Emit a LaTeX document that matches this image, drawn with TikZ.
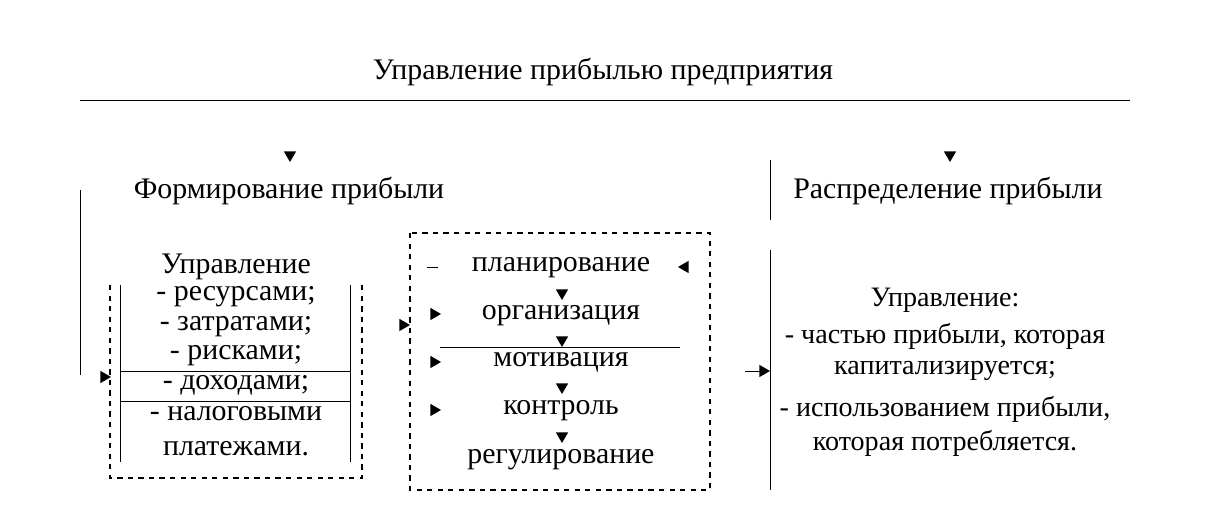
\documentclass[tikz,border=0pt]{standalone}
\usepackage{fontspec}
\setmainfont{Liberation Serif}
\usetikzlibrary{positioning,shapes.geometric}
\tikzset{
  txt/.style={inner sep=0pt, font=\fontsize{17}{20}\selectfont},
  rtxt/.style={inner sep=0pt, font=\fontsize{16}{19}\selectfont, align=center},
  tri/.style={isosceles triangle, isosceles triangle apex angle=60, fill=black, inner sep=0pt, minimum size=6pt},
  downtri/.style={tri, shape border rotate=-90},
  righttri/.style={tri, shape border rotate=0},
  lefttri/.style={tri, shape border rotate=180},
  dashbox/.style={dashed, thick},
}
\begin{document}
\begin{tikzpicture}[x=0.02cm, y=-0.02cm]
  \useasboundingbox (0,0) rectangle (1205,519);

  % header
  \node[txt] (title) at (603,72) {Управление прибылью предприятия};
  \draw (80,100) -- (1130,100);
  \node[downtri] (aform) at (290,155) {};
  \node[downtri] (adist) at (950,155) {};
  \node[txt] (form) at (289,191) {Формирование прибыли};
  \node[txt] (dist) at (948,191) {Распределение прибыли};
  \draw (80,190) -- (80,375);
  \draw (770,160) -- (770,220);
  \draw (770,250) -- (770,490);

  % left box
  \draw[dashbox] (110,285) -- (110,478) -- (362,478) -- (362,285);
  \draw (120,285) -- (120,462) (350,285) -- (350,462);
  \draw (120,371) -- (350,371) (120,401) -- (350,401);
  \node[righttri] (ain) at (104,377) {};
  \node[txt] (u1) at (236,267) {Управление};
  \node[txt] (u2) at (236,297) {- ресурсами;};
  \node[txt] (u3) at (236,327) {- затратами;};
  \node[txt] (u4) at (236,356) {- рисками;};
  \node[txt] (u5) at (236,385) {- доходами;};
  \node[txt] (u6) at (236,414) {- налоговыми};
  \node[txt] (u7) at (236,449) {платежами.};

  % middle box
  \draw[dashbox] (410,233) rectangle (710,490);
  \node[righttri] (amid) at (403,325) {};
  \node[txt] (f1) at (561,268) {планирование};
  \node[txt] (f2) at (561,316) {организация};
  \node[txt] (f3) at (561,362) {мотивация};
  \node[txt] (f4) at (561,411) {контроль};
  \node[txt] (f5) at (561,460) {регулирование};
  \foreach \y in {293,340,387,436} \node[downtri] at (562,\y) {};
  \draw (440,347) -- (680,347);
  \draw (427,267) -- (438,267);
  \foreach \y in {314,362,410} \node[righttri] at (434,\y) {};
  \node[lefttri] (aplan) at (685,267) {};

  % right block
  \draw (745,371) -- (760,371);
  \node[righttri] (aright) at (763,371) {};
  \node[rtxt] (r1) at (945,300) {Управление:};
  \node[rtxt] (r2) at (945,336) {- частью прибыли, которая};
  \node[rtxt] (r3) at (945,371) {капитализируется;};
  \node[rtxt] (r4) at (945,409) {- использованием прибыли,};
  \node[rtxt] (r5) at (945,443) {которая потребляется.};
\end{tikzpicture}
\end{document}
